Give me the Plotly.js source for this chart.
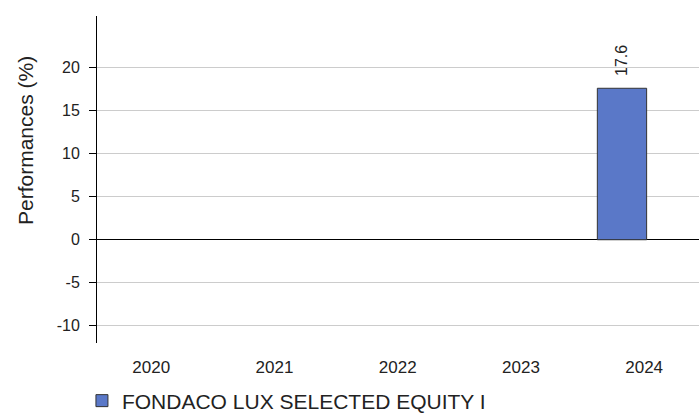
<!DOCTYPE html>
<html>
<head>
<meta charset="utf-8">
<script src="https://cdn.plot.ly/plotly-3.0.1.min.js"></script>
<style>
html,body{margin:0;padding:0;background:#fff;}
#chart{width:699px;height:414px;}
</style>
</head>
<body>
<div id="chart"></div>
<script>
// ---- data ----
const years = ['2020', '2021', '2022', '2023', '2024'];
const performances = [null, null, null, null, 17.6];
const seriesName = 'FONDACO LUX SELECTED EQUITY I';
const yTickVals = [-10, -5, 0, 5, 10, 15, 20];
const yTickText = ['-10', '-5', '0', '5', '10', '15', '20'];
const yTitle = 'Performances (%)';

const FONT = 'Liberation Sans, Arial, Helvetica, sans-serif';
const TXT = '#222222';
const yRange = [-12, 26];

const trace = {
  type: 'bar',
  x: years,
  y: performances,
  name: seriesName,
  width: 0.4,
  offset: -0.38,
  marker: {color: '#5a78c8', line: {color: '#333333', width: 1}},
  hoverinfo: 'skip',
  showlegend: true
};

const annotations = [];
years.forEach((yr, i) => {
  const v = performances[i];
  if (v === null || v === undefined) return;
  annotations.push({
    x: i, y: v, xref: 'x', yref: 'y',
    text: v.toFixed(1), textangle: -90, showarrow: false,
    xanchor: 'center', yanchor: 'bottom',
    xshift: -22, yshift: 10,
    font: {family: FONT, size: 16, color: TXT}
  });
});
annotations.push({
  text: yTitle, textangle: -90, showarrow: false,
  xref: 'paper', yref: 'paper', x: -0.12, y: 0.62,
  xanchor: 'center', yanchor: 'middle',
  font: {family: FONT, size: 21, color: TXT}
});

const layout = {
  width: 699, height: 414,
  margin: {l: 97, r: 0, t: 16, b: 71, pad: 0, autoexpand: false},
  paper_bgcolor: '#ffffff', plot_bgcolor: '#ffffff',
  font: {family: FONT, size: 16, color: TXT},
  showlegend: true,
  legend: {
    orientation: 'h', xref: 'paper', x: -0.025, xanchor: 'left',
    yref: 'paper', y: -0.24, yanchor: 'bottom',
    font: {family: FONT, size: 21, color: TXT}, bgcolor: 'rgba(0,0,0,0)'
  },
  xaxis: {
    type: 'category', range: [-0.44, 4.445], fixedrange: true,
    showgrid: false, zeroline: false, showline: false, ticks: '',
    ticklabelstandoff: 12,
    tickfont: {family: FONT, size: 17, color: TXT}
  },
  yaxis: {
    range: yRange, fixedrange: true,
    tickvals: yTickVals, ticktext: yTickText,
    showgrid: true, gridcolor: '#cccccc', gridwidth: 1,
    zeroline: true, zerolinecolor: '#000000', zerolinewidth: 1,
    showline: true, linecolor: '#000000', linewidth: 1,
    ticks: 'outside', ticklen: 7, tickcolor: '#000000', tickwidth: 1,
    ticklabelstandoff: 6,
    tickfont: {family: FONT, size: 16, color: TXT}
  },
  yaxis2: {
    overlaying: 'y', anchor: 'x', side: 'left', range: yRange, fixedrange: true,
    tickvals: yTickVals, showticklabels: false,
    showgrid: false, zeroline: false, showline: false,
    ticks: 'inside', ticklen: 5, tickcolor: '#000000', tickwidth: 1
  },
  annotations: annotations,
  bargap: 0
};

Plotly.newPlot('chart', [trace], layout, {displayModeBar: false, staticPlot: true});
</script>
</body>
</html>
